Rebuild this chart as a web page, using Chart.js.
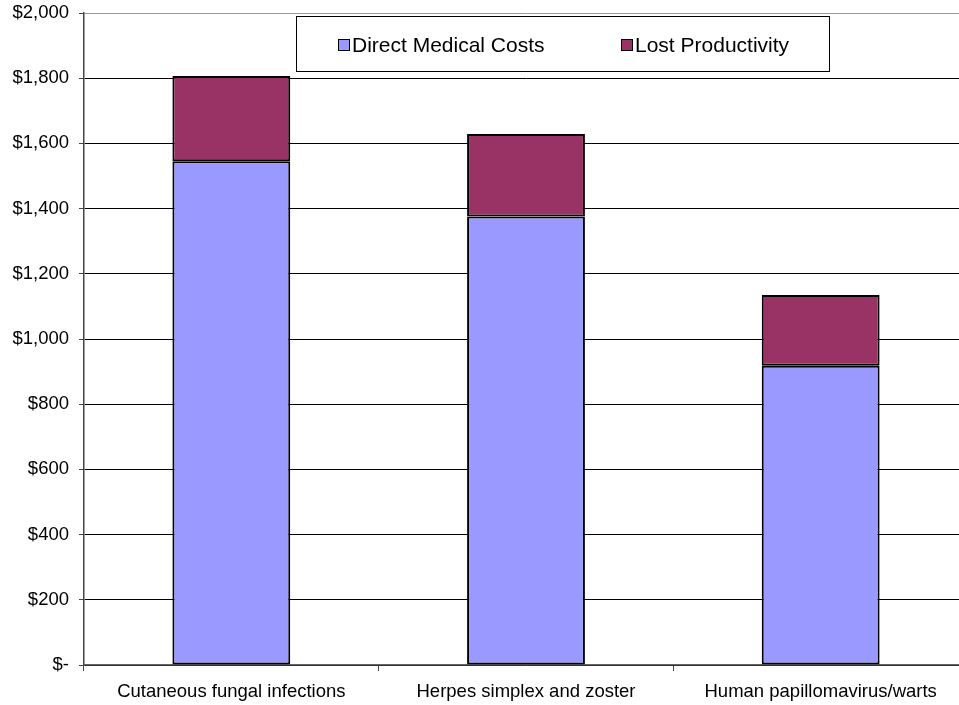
<!DOCTYPE html>
<html>
<head>
<meta charset="utf-8">
<script src="https://cdn.jsdelivr.net/npm/chart.js@4.4.1/dist/chart.umd.min.js"></script>
<style>
  html, body { margin: 0; padding: 0; background: #fff; overflow: hidden; }
  #wrap { width: 959px; height: 705px; overflow: hidden; }
</style>
</head>
<body>
<div id="wrap"><canvas id="costChart" width="968" height="705"></canvas></div>
<script>
// categories and series
const categories = ['Cutaneous fungal infections', 'Herpes simplex and zoster', 'Human papillomavirus/warts'];
const directMedicalCosts = [1545, 1376, 918];
const lostProductivity = [262, 253, 217];
const seriesNames = ['Direct Medical Costs', 'Lost Productivity'];
const yTicks = [0, 200, 400, 600, 800, 1000, 1200, 1400, 1600, 1800, 2000];

const FONT = 'Arial, "Liberation Sans", Helvetica, sans-serif';

function formatDollar(v) {
    if (v === 0) return '$-';
    return '$' + v.toLocaleString('en-US');
}

// legend box drawn inside the plot, like the original
const boxLegend = {
    id: 'boxLegend',
    afterDraw(chart) {
        const ctx = chart.ctx;
        ctx.save();
        ctx.fillStyle = '#fff';
        ctx.fillRect(296, 16, 534, 56);
        ctx.strokeStyle = '#000';
        ctx.lineWidth = 1;
        ctx.strokeRect(296.5, 16.5, 533, 55);

        const items = [
            { x: 338, textX: 352 },
            { x: 621, textX: 635 }
        ];
        ctx.font = '21px ' + FONT;
        ctx.textBaseline = 'middle';
        ctx.textAlign = 'left';
        chart.data.datasets.forEach((ds, i) => {
            const it = items[i];
            ctx.fillStyle = ds.backgroundColor;
            ctx.fillRect(it.x, 39, 12, 12);
            ctx.strokeStyle = '#000';
            ctx.strokeRect(it.x + 0.5, 39.5, 11, 11);
            ctx.fillStyle = '#000';
            ctx.fillText(ds.label, it.textX, 46);
        });
        ctx.restore();
    }
};

new Chart(document.getElementById('costChart'), {
    type: 'bar',
    data: {
        labels: categories,
        datasets: [
            {
                label: seriesNames[0],
                data: directMedicalCosts,
                backgroundColor: '#9999FF',
                borderColor: '#000',
                borderWidth: 2,
                borderSkipped: false
            },
            {
                label: seriesNames[1],
                data: lostProductivity,
                backgroundColor: '#993366',
                borderColor: '#000',
                borderWidth: 2,
                borderSkipped: false
            }
        ]
    },
    options: {
        responsive: false,
        animation: false,
        layout: { padding: { top: 13, left: 0, right: 0, bottom: 0 } },
        datasets: {
            bar: { barPercentage: 1, categoryPercentage: 0.4 }
        },
        plugins: {
            legend: { display: false },
            tooltip: { enabled: false }
        },
        scales: {
            x: {
                stacked: true,
                afterFit: (scale) => {
                    scale.height = 40;
                    scale.paddingLeft = 0;
                    scale.paddingRight = 0;
                },
                grid: {
                    offset: true,
                    drawOnChartArea: false,
                    drawTicks: true,
                    tickLength: 6,
                    tickColor: '#444'
                },
                border: { color: '#666', width: 1.5 },
                ticks: {
                    color: '#000',
                    padding: 10,
                    maxRotation: 0,
                    font: { family: FONT, size: 18.5 }
                }
            },
            y: {
                stacked: true,
                min: 0,
                max: 2000,
                afterFit: (scale) => {
                    scale.width = 84;
                    scale.paddingTop = 0;
                    scale.paddingBottom = 0;
                },
                afterBuildTicks: (scale) => {
                    scale.ticks = yTicks.map(v => ({ value: v }));
                },
                grid: {
                    color: (c) => (c.tick && (c.tick.value === 2000) ? '#999' : '#000'),
                    lineWidth: 1,
                    tickLength: 5,
                    tickColor: '#444'
                },
                border: { color: '#444', width: 1.5 },
                ticks: {
                    color: '#000',
                    padding: 10,
                    font: { family: FONT, size: 18.5 },
                    callback: (v) => formatDollar(v)
                }
            }
        }
    },
    plugins: [boxLegend]
});
</script>
</body>
</html>
